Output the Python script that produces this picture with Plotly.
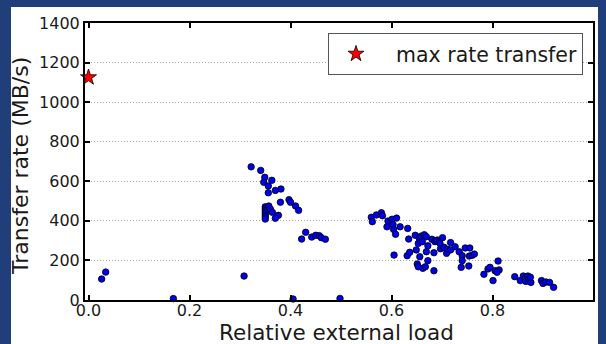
import plotly.graph_objects as go

# ---- data ----
load = [0.026, 0.034, 0.168, 0.308, 0.405, 0.498,
        0.322, 0.341, 0.349, 0.363, 0.347, 0.356, 0.356, 0.370, 0.381, 0.380, 0.397, 0.400, 0.410, 0.416,
        0.350, 0.350, 0.350, 0.350, 0.350, 0.350, 0.350,
        0.357, 0.360, 0.364, 0.376, 0.370,
        0.430, 0.422, 0.442, 0.450, 0.457, 0.461, 0.469,
        0.560, 0.562, 0.570, 0.580, 0.582, 0.593, 0.601, 0.610, 0.603, 0.591, 0.604, 0.608, 0.617, 0.632,
        0.634, 0.647, 0.655, 0.653, 0.659, 0.665, 0.669, 0.672, 0.661, 0.605, 0.631, 0.636, 0.649, 0.656,
        0.669, 0.672, 0.684, 0.651, 0.653, 0.662, 0.667, 0.684, 0.680, 0.686, 0.691,
        0.689, 0.694, 0.701, 0.696, 0.697, 0.704, 0.709, 0.711, 0.717, 0.717, 0.726, 0.734, 0.740, 0.740,
        0.738, 0.746, 0.755, 0.754, 0.760, 0.764, 0.753,
        0.783, 0.791, 0.795, 0.801, 0.805, 0.811, 0.813, 0.809, 0.844, 0.855, 0.861, 0.865, 0.866, 0.870,
        0.872, 0.876, 0.875, 0.897, 0.900, 0.906, 0.913, 0.921]
rate = [106, 141, 7, 121, 5, 8,
        673, 655, 620, 605, 595, 576, 542, 554, 561, 494, 507, 494, 475, 453,
        471, 460, 450, 440, 430, 420, 409,
        475, 460, 443, 428, 413,
        342, 308, 318, 327, 325, 315, 307,
        418, 396, 430, 441, 426, 399, 408, 414, 382, 370, 357, 332, 370, 362,
        308, 327, 312, 286, 323, 330, 320, 274, 295, 227, 224, 241, 253, 219,
        244, 199, 239, 182, 168, 160, 168, 148, 307, 295, 303,
        300, 293, 315, 286, 259, 266, 236, 256, 290, 253, 269, 244, 224, 199,
        165, 263, 263, 222, 226, 232, 172,
        130, 157, 165, 98, 148, 197, 152, 140, 118, 98, 121, 111, 94, 121,
        106, 89, 115, 98, 84, 91, 89, 64]

max_load = [0.0]
max_rate = [1125]
max_name = "max rate transfer"

x_ticks = [0.0, 0.2, 0.4, 0.6, 0.8]
x_ticktext = ["0.0", "0.2", "0.4", "0.6", "0.8"]
y_ticks = [0, 200, 400, 600, 800, 1000, 1200, 1400]

x_title = "Relative external load"
y_title = "Transfer rate (MB/s)"

FONT = "DejaVu Sans"
W, H = 606, 344
ML, MR, MT, MB = 85, 13, 23, 44
PW, PH = W - ML - MR, H - MT - MB

def px_x(p):
    return (p - ML) / PW

def px_y(p):
    return (H - MB - p) / PH

fig = go.Figure()
fig.add_trace(go.Scatter(
    x=load, y=rate, mode="markers", showlegend=False,
    marker=dict(size=6.5, color="#0000ee", line=dict(color="black", width=0.8)),
    cliponaxis=False,
))
fig.add_trace(go.Scatter(
    x=max_load, y=max_rate, mode="markers", name="\u00a0\u00a0" + max_name,
    marker=dict(symbol="star", size=12, color="red", line=dict(color="black", width=0.8)),
    cliponaxis=False,
))

axis_common = dict(
    showline=True, linecolor="black", linewidth=2, mirror="allticks",
    ticks="inside", ticklen=5, tickwidth=2, tickcolor="black",
    tickfont=dict(family=FONT, size=16, color="#1a1a1a"),
    zeroline=False,
)

fig.update_xaxes(range=[-0.007, 0.999], tickvals=x_ticks, ticktext=x_ticktext,
                 showgrid=False, ticklabelstandoff=-5, **axis_common)
fig.update_yaxes(range=[0, 1400], tickvals=y_ticks, showgrid=True,
                 gridcolor="#a8a8a8", griddash="1px,2px", gridwidth=1, **axis_common)

fig.add_annotation(text=x_title, xref="paper", yref="paper",
                   x=px_x(336), y=px_y(332), xanchor="center", yanchor="middle",
                   showarrow=False, font=dict(family=FONT, size=21.5, color="#1a1a1a"))
fig.add_annotation(text=y_title, xref="paper", yref="paper",
                   x=px_x(20), y=px_y(166), xanchor="center", yanchor="middle",
                   textangle=-90, showarrow=False,
                   font=dict(family=FONT, size=22, color="#1a1a1a"))

# white panel on blue slide background
fig.add_shape(type="rect", xref="paper", yref="paper", layer="below",
              x0=px_x(11), x1=px_x(598), y0=px_y(346), y1=px_y(7),
              fillcolor="white", line=dict(width=0))

fig.update_layout(
    width=W, height=H,
    margin=dict(l=ML, r=MR, t=MT, b=MB),
    paper_bgcolor="#203f7a", plot_bgcolor="white",
    font=dict(family=FONT),
    legend=dict(x=px_x(328), y=px_y(33), xanchor="left", yanchor="top",
                itemwidth=44,
                bgcolor="white", bordercolor="#555555", borderwidth=1,
                font=dict(family=FONT, size=20.5, color="#1a1a1a")),
)

fig.write_html("out.html")
